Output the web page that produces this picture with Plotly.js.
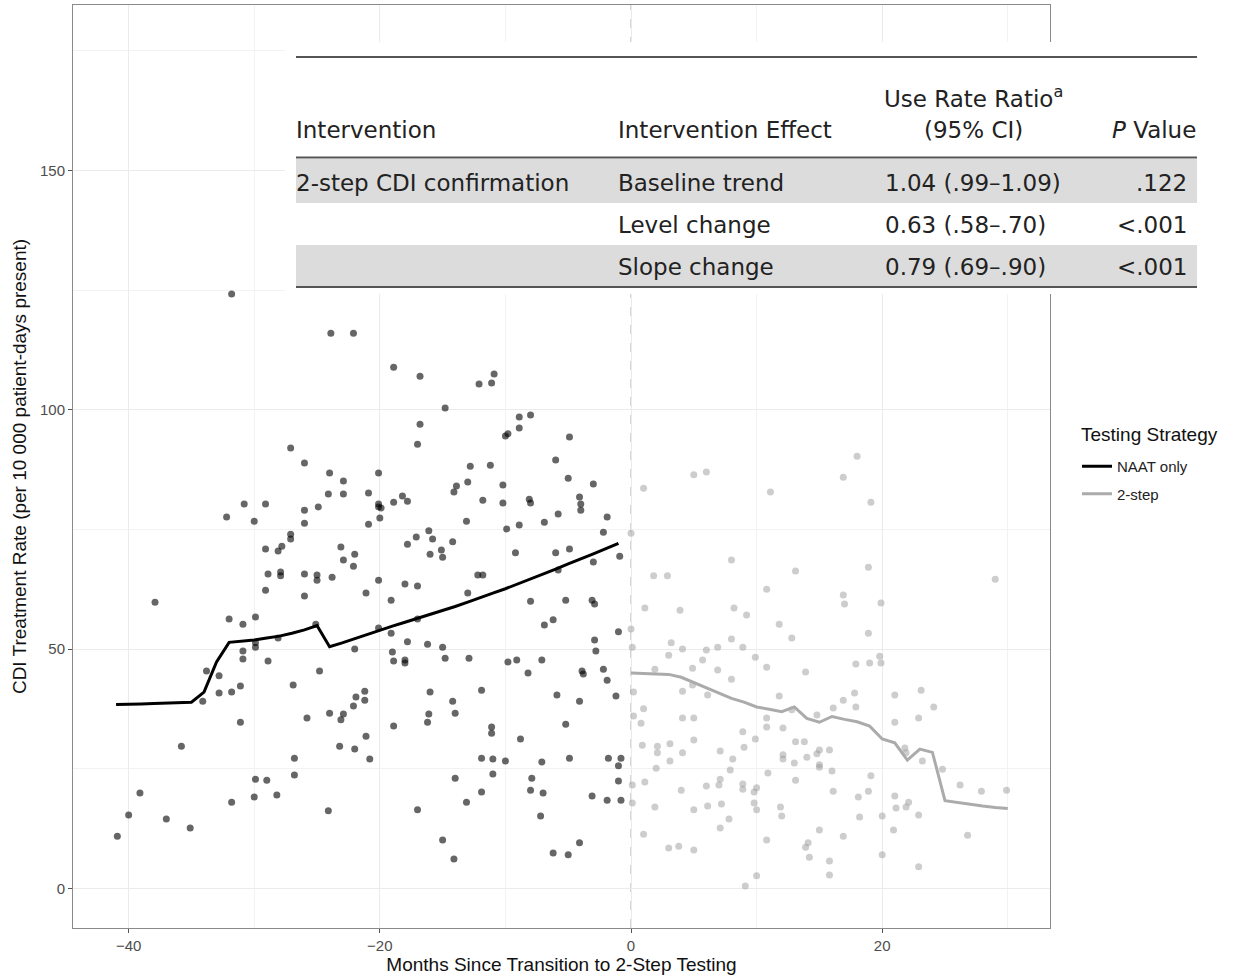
<!DOCTYPE html>
<html>
<head>
<meta charset="utf-8">
<script src="https://cdn.plot.ly/plotly-3.0.1.min.js"></script>
<style>html,body{margin:0;padding:0;background:#fff;}#chart{width:1238px;height:977px;}</style>
</head>
<body>
<div id="chart"></div>
<script>
// ---- Data: monthly hospital CDI treatment rates ----
const naatMonth = [-40.9,-40.0,-39.1,-37.9,-37.0,-35.8,-35.1,-34.1,-33.8,-32.8,-32.8,-32.0,-31.8,-31.8,-31.1,-31.1,-30.9,-30.9,-30.9,-29.9,-29.9,-29.9,-29.9,-30.0,-29.0,-28.9,-28.2,-28.1,-26.9,-26.8,-26.8,-25.8,-25.1,-24.8,-24.1,-24.0,-23.1,-22.9,-23.2,-22.1,-22.0,-21.9,-22.0,
-27.1,-26.0,-24.0,-22.9,-24.1,-22.9,-30.8,-29.1,-32.2,-30.0,-26.0,-24.9,-26.0,-27.1,-27.1,-29.1,-27.8,-28.1,-23.1,-22.0,-22.9,-22.1,-28.9,-27.9,-27.9,-26.0,-25.0,-25.0,-23.8,-29.1,-26.0,-23.9,-22.1,-31.8,
-18.9,-16.8,-14.8,-16.8,-17.0,-12.1,-11.1,-10.9,-8.9,-8.0,-8.9,-10.0,-9.8,-4.9,-6.0,-5.0,-3.0,-4.1,-4.0,-4.0,-1.9,-2.2,-0.9,-3.0,-4.9,-6.0,-5.8,-8.0,-5.2,-3.1,-2.9,-9.2,-8.9,-9.9,-6.9,-5.8,-10.2,-10.2,-8.1,-8.0,-11.8,-11.2,-12.8,-13.0,-13.9,-14.1,-13.1,-16.1,-15.8,-17.1,-17.8,-14.2,-15.1,-15.0,-16.0,-12.2,-11.8,-13.0,-17.0,-18.0,-19.1,-20.1,-21.1,-20.1,-20.9,-18.9,-18.2,-17.8,-20.1,-20.1,-19.9,-20.0,-20.9,
-20.1,-19.1,-19.0,-18.9,-18.0,-18.0,-17.8,-17.0,-16.2,-15.0,-14.8,-12.9,-9.8,-9.1,-8.2,-7.1,-6.9,-6.2,-2.9,-2.8,-1.0,-3.9,-3.8,-2.2,-1.9,-1.2,-5.9,-4.1,-5.2,-8.8,-11.1,-11.1,-11.9,-14.2,-14.0,-16.0,-16.1,-16.2,-18.9,-21.2,-21.2,-21.1,-20.8,-11.9,-11.0,-10.0,-11.0,-14.0,-11.9,-13.1,-17.0,-15.0,-14.1,-7.9,-8.0,-7.0,-7.2,-7.1,-4.9,-6.2,-5.0,-4.1,-3.1,-1.9,-0.8,-1.0,-1.0,-1.8,-0.8];
const naatRate = [10.9,15.3,19.9,59.8,14.5,29.7,12.6,39.1,45.4,44.4,40.8,56.3,41.0,18.0,42.3,34.7,55.2,49.6,47.9,56.7,51.3,50.4,22.8,19.1,22.6,47.5,19.5,52.3,42.5,27.2,23.7,35.6,55.2,45.4,16.2,36.6,35.2,36.4,29.7,38.1,29.1,40.0,50.0,
92.0,88.9,86.8,85.1,82.4,82.4,80.3,80.3,77.6,76.7,79.0,79.7,76.3,74.0,73.0,70.9,71.5,70.5,71.3,69.8,68.6,67.3,65.7,66.1,65.3,65.7,65.5,64.4,65.0,62.3,61.1,116.0,116.0,124.2,
108.9,107.0,100.4,97.0,92.8,105.4,105.6,107.5,98.5,98.9,96.2,94.5,95.0,94.3,89.5,85.7,84.5,81.8,80.3,79.0,77.6,74.4,69.4,68.2,70.9,70.1,66.5,60.0,60.2,60.2,59.4,70.1,75.9,75.1,76.5,78.2,84.3,80.5,81.3,80.5,81.1,88.4,88.2,84.9,84.1,82.8,76.7,74.7,73.0,73.4,71.9,72.4,70.7,69.2,69.8,65.5,65.5,61.7,63.2,63.6,60.2,64.4,61.7,86.8,82.6,80.7,82.0,80.9,80.3,79.7,79.5,77.4,76.1,
54.4,53.3,49.4,47.5,47.7,47.1,51.5,56.3,51.0,50.4,48.1,48.1,47.3,47.7,45.0,47.7,55.0,56.1,51.9,49.6,53.6,45.4,44.8,45.8,43.5,40.2,40.4,39.1,34.3,31.2,33.7,32.4,41.4,39.1,36.6,41.0,36.4,34.7,33.9,41.2,39.3,31.8,27.0,27.2,27.0,26.6,23.9,23.0,20.1,18.0,16.4,10.1,6.1,23.0,20.5,19.9,15.1,26.4,27.2,7.4,7.0,9.5,19.3,18.4,18.4,22.4,25.6,27.2,27.2];

const twoStepMonth = [0.0,1.0,5.0,6.0,11.1,8.0,1.8,2.9,13.1,10.8,1.1,3.9,8.2,9.2,11.8,12.8,0.0,0.1,3.2,4.1,6.0,6.9,8.0,8.9,9.9,3.0,5.7,
18.0,16.9,19.1,18.9,16.9,17.0,19.9,18.9,19.8,29.0,
1.9,4.9,6.9,10.8,13.9,8.0,0.2,4.1,4.9,6.1,11.8,1.0,0.2,0.8,4.1,5.0,10.8,10.8,12.1,12.8,14.8,16.1,8.9,9.9,9.0,13.1,13.8,0.9,2.1,2.1,3.1,5.0,4.1,7.1,12.1,12.1,8.1,14.0,15.0,14.8,15.8,13.0,15.0,15.0,3.1,2.0,7.9,16.0,10.9,13.1,1.1,0.1,7.1,7.0,6.0,8.9,8.9,10.0,9.8,4.0,16.1,0.1,1.9,6.1,7.2,9.8,10.0,5.0,11.9,12.0,7.8,7.1,1.0,15.0,10.8,3.0,3.8,5.0,14.1,13.9,14.2,15.8,15.8,10.0,9.1,
17.9,19.0,19.9,17.8,16.9,17.9,21.0,23.1,24.1,21.0,22.9,21.8,21.9,23.2,24.8,19.1,26.2,27.9,29.9,18.9,18.1,21.0,22.1,21.9,21.1,18.2,20.0,22.9,16.9,20.9,26.8,20.0,22.9];
const twoStepRate = [74.2,83.6,86.4,87.0,82.8,68.6,65.3,65.3,66.3,62.5,58.6,58.1,58.6,57.1,55.2,52.3,54.2,50.4,51.3,50.0,49.8,50.4,52.1,50.4,48.3,48.7,47.7,
90.3,85.9,80.7,67.1,61.3,59.4,59.6,53.3,48.5,64.6,
45.8,46.0,45.6,46.2,45.2,43.7,41.0,41.2,42.5,40.4,40.2,37.5,36.0,34.5,35.6,35.6,35.6,33.7,33.5,37.3,36.2,37.7,32.7,31.2,29.5,30.6,30.6,29.9,29.7,28.3,30.2,31.0,28.3,28.7,27.9,27.0,27.0,27.4,28.9,28.1,28.9,26.2,25.8,25.3,26.6,25.1,24.7,24.5,24.1,22.6,22.2,21.6,22.8,21.6,21.4,21.8,20.7,21.0,20.1,20.5,20.3,17.8,17.0,17.2,17.6,17.8,16.4,16.4,17.0,15.1,14.5,12.6,11.3,12.2,10.1,8.4,8.8,8.0,9.5,8.6,6.5,5.7,2.8,2.6,0.5,
46.9,47.1,47.1,40.8,39.3,37.9,40.4,41.4,37.9,34.7,35.6,29.3,28.3,26.6,24.9,23.5,21.6,20.3,20.5,20.3,19.1,19.3,18.0,17.0,16.8,14.9,15.1,15.3,10.9,12.2,11.1,7.0,4.5];

// ---- Segmented-regression fitted rates by month ----
const naatFitMonth = [-41,-40,-39,-38,-37,-36,-35,-34,-33,-32,-31,-30,-29,-28,-27,-26,-25,-24,-23,-22,-21,-20,-19,-18,-17,-16,-15,-14,-13,-12,-11,-10,-9,-8,-7,-6,-5,-4,-3,-2,-1];
const naatFitRate  = [38.4,38.4,38.5,38.6,38.7,38.8,38.9,41.0,47.3,51.4,51.6,51.9,52.3,52.7,53.3,54.0,54.9,50.5,51.3,52.2,53.1,54.0,54.8,55.6,56.4,57.2,58.0,58.9,59.8,60.8,61.7,62.6,63.6,64.6,65.6,66.7,67.8,68.8,69.9,71.0,72.1];
const twoStepFitMonth = [0,1,2,3,4,5,6,7,8,9,10,11,12,13,14,15,16,17,18,19,20,21,22,23,24,25,26,27,28,29,30];
const twoStepFitRate  = [45.0,44.9,44.8,44.7,44.1,43.0,41.8,40.7,39.7,38.9,37.9,37.4,36.9,37.9,35.5,34.7,35.9,35.3,34.8,33.9,31.2,30.4,26.8,29.1,28.4,18.3,17.9,17.5,17.2,16.9,16.7];

const transitionMonth = 0;
const seriesNames = ["NAAT only", "2-step"];
const legendTitle = "Testing Strategy";

// ---- Inset table ----
const tableHeaders = ["Intervention", "Intervention Effect", "Use Rate Ratio<sup>a</sup>", "(95% CI)", "<i>P</i> Value"];
const tableIntervention = ["2-step CDI confirmation", "", ""];
const tableEffect = ["Baseline trend", "Level change", "Slope change"];
const tableRatio = ["1.04 (.99–1.09)", "0.63 (.58–.70)", "0.79 (.69–.90)"];
const tablePValue = [".122", "<.001", "<.001"];

// ---- Layout helpers (pixel -> paper) ----
const L = 73, R = 1050, T = 5, B = 928;
const px = v => (v - L) / (R - L);
const py = v => (B - v) / (B - T);

const traces = [
  {x: naatMonth, y: naatRate, type: 'scatter', mode: 'markers', showlegend: false,
   marker: {color: 'rgba(0,0,0,0.6)', size: 7}, hoverinfo: 'skip'},
  {x: twoStepMonth, y: twoStepRate, type: 'scatter', mode: 'markers', showlegend: false,
   marker: {color: 'rgba(150,150,150,0.48)', size: 7}, hoverinfo: 'skip'},
  {x: naatFitMonth, y: naatFitRate, type: 'scatter', mode: 'lines', name: seriesNames[0],
   legendgroup: 'g1', line: {color: '#000000', width: 3}},
  {x: twoStepFitMonth, y: twoStepFitRate, type: 'scatter', mode: 'lines', name: seriesNames[1],
   legendgroup: 'g2', line: {color: '#ababab', width: 3}}
];

const tfont = {family: 'DejaVu Sans, sans-serif', size: 23, color: '#222'};
const annotations = [];
function addText(text, x, y, anchor) {
  const shift = anchor === 'left' ? -2 : (anchor === 'right' ? 2 : 0);
  annotations.push({text: text, xref: 'paper', yref: 'paper', x: px(x + shift), y: py(y),
    xanchor: anchor, yanchor: 'middle', showarrow: false, font: tfont});
}
addText(tableHeaders[2], 973, 97, 'center');
addText(tableHeaders[0], 296, 130, 'left');
addText(tableHeaders[1], 618, 130, 'left');
addText(tableHeaders[3], 973, 130, 'center');
addText(tableHeaders[4], 1196, 130, 'right');
const rowY = [183, 225, 267];
for (let i = 0; i < 3; i++) {
  if (tableIntervention[i]) addText(tableIntervention[i], 296, rowY[i], 'left');
  addText(tableEffect[i], 618, rowY[i], 'left');
  addText(tableRatio[i], 885, rowY[i], 'left');
  addText(tablePValue[i], 1187, rowY[i], 'right');
}
// legend title
annotations.push({text: legendTitle, xref: 'paper', yref: 'paper', x: px(1079), y: py(434),
  xanchor: 'left', yanchor: 'middle', showarrow: false,
  font: {family: 'Liberation Sans, Arial, sans-serif', size: 19, color: '#111'}});

const shapes = [
  {type: 'line', xref: 'x', yref: 'paper', x0: transitionMonth, x1: transitionMonth, y0: 0, y1: 1,
   line: {color: '#bdbdbd', width: 1.3, dash: 'dash'}, layer: 'between'},
  // table background
  {type: 'rect', xref: 'paper', yref: 'paper', x0: px(285), x1: px(1200), y0: py(294), y1: py(42),
   fillcolor: '#ffffff', line: {width: 0}, layer: 'above'},
  {type: 'rect', xref: 'paper', yref: 'paper', x0: px(296), x1: px(1197), y0: py(203), y1: py(159),
   fillcolor: '#dcdcdc', line: {width: 0}, layer: 'above'},
  {type: 'rect', xref: 'paper', yref: 'paper', x0: px(296), x1: px(1197), y0: py(287), y1: py(245),
   fillcolor: '#dcdcdc', line: {width: 0}, layer: 'above'},
  {type: 'line', xref: 'paper', yref: 'paper', x0: px(296), x1: px(1197), y0: py(57), y1: py(57),
   line: {color: '#555', width: 2.2}, layer: 'above'},
  {type: 'line', xref: 'paper', yref: 'paper', x0: px(296), x1: px(1197), y0: py(157.5), y1: py(157.5),
   line: {color: '#555', width: 2.2}, layer: 'above'},
  {type: 'line', xref: 'paper', yref: 'paper', x0: px(296), x1: px(1197), y0: py(287), y1: py(287),
   line: {color: '#555', width: 2.2}, layer: 'above'}
];

const axisCommon = {
  showline: true, mirror: true, linecolor: '#8a8a8a', linewidth: 1,
  ticks: 'outside', ticklen: 4, tickcolor: '#555', tickwidth: 1,
  tickfont: {family: 'Liberation Sans, Arial, sans-serif', size: 15, color: '#4d4d4d'},
  showgrid: true, gridcolor: '#ebebeb', gridwidth: 1, zeroline: false,
  tickmode: 'linear', tick0: 0
};

const layout = {
  width: 1238, height: 977,
  margin: {l: L, r: 1238 - R, t: T, b: 977 - B},
  paper_bgcolor: '#ffffff', plot_bgcolor: '#ffffff',
  font: {family: 'Liberation Sans, Arial, sans-serif', color: '#000'},
  xaxis: Object.assign({}, axisCommon, {
    range: [-44.43, 33.36], dtick: 20,
    minor: {dtick: 10, showgrid: true, gridcolor: '#f2f2f2', gridwidth: 1},
    title: {text: 'Months Since Transition to 2-Step Testing', font: {size: 19, color: '#111'}, standoff: 4}
  }),
  yaxis: Object.assign({}, axisCommon, {
    range: [-8.3, 184.6], dtick: 50,
    minor: {dtick: 25, showgrid: true, gridcolor: '#f2f2f2', gridwidth: 1},
    title: {text: 'CDI Treatment Rate (per 10 000 patient-days present)', font: {size: 19, color: '#111'}, standoff: 8}
  }),
  legend: {
    x: px(1077), y: py(450), xanchor: 'left', yanchor: 'top',
    font: {size: 15, color: '#222'}, bgcolor: 'rgba(0,0,0,0)', tracegroupgap: 5
  },
  shapes: shapes,
  annotations: annotations
};

Plotly.newPlot('chart', traces, layout, {displayModeBar: false, staticPlot: true});
</script>
</body>
</html>
